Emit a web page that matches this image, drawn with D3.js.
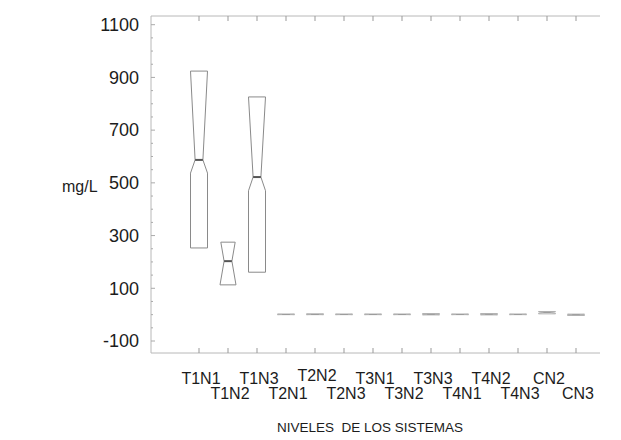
<!DOCTYPE html>
<html><head><meta charset="utf-8">
<script src="https://cdn.jsdelivr.net/npm/d3@7"></script>
<style>
body{margin:0;background:#fff}
text{font-family:"Liberation Sans",Arial,sans-serif;fill:#1c1c1c}
</style></head>
<body><svg id="chart" width="621" height="440"></svg>
<script>
const categories = ["T1N1","T1N2","T1N3","T2N1","T2N2","T2N3","T3N1","T3N2","T3N3","T4N1","T4N2","T4N3","CN2","CN3"];
const q1Values     = [253, 113, 161, 0, 0, 0, 0, 0, -1, 0, -1, 0, 3, -3];
const q3Values     = [924, 275, 826, 2, 3, 2, 2, 2, 4, 2, 4, 2, 12, 2];
const medianValues = [587, 203, 522, 1, 1, 1, 1, 1, 1, 1, 1, 1, 8, 0];
const notchLoValues= [537, 102, 470, 0, 0, 0, 0, 0, 0, 0, 0, 0, 5, -2];
const notchHiValues= [924, 304, 826, 2, 2, 2, 2, 2, 3, 2, 3, 2, 11, 1];
const yTickValues  = [1100, 900, 700, 500, 300, 100, -100];
const yLabel = "mg/L";
const xTitle = "NIVELES  DE LOS SISTEMAS";

(function () {
const svg = d3.select("#chart");
const pLeft = 151, pRight = 600, pTop = 16, pBottom = 353;

const y = d3.scaleLinear().domain([-145.5, 1133]).range([pBottom, pTop]);
const x = d3.scalePoint().domain(categories).range([199, 576]);

const frameColor = "#b8b8b8";
svg.append("line").attr("x1", pLeft).attr("x2", pLeft).attr("y1", pTop).attr("y2", pBottom)
  .attr("stroke", frameColor).attr("stroke-width", 1);
svg.append("line").attr("x1", pLeft).attr("x2", pRight).attr("y1", pTop).attr("y2", pTop)
  .attr("stroke", frameColor).attr("stroke-width", 1);
svg.append("line").attr("x1", pLeft).attr("x2", pRight).attr("y1", pBottom).attr("y2", pBottom)
  .attr("stroke", frameColor).attr("stroke-width", 1);

const minor = d3.range(-100, 1101, 50);
svg.append("g").selectAll("line").data(minor).join("line")
  .attr("x1", pLeft).attr("x2", d => pLeft + (yTickValues.includes(d) ? 4 : 2))
  .attr("y1", d => y(d)).attr("y2", d => y(d))
  .attr("stroke", "#aaa");

svg.append("g").selectAll("text").data(yTickValues).join("text")
  .attr("x", 139).attr("y", d => y(d)).attr("dy", "0.35em")
  .attr("text-anchor", "end").attr("font-size", 18).text(d => d);

svg.append("g").selectAll("line").data(categories).join("line")
  .attr("x1", d => x(d)).attr("x2", d => x(d)).attr("y1", pTop).attr("y2", pTop + 5)
  .attr("stroke", "#999");
svg.append("g").selectAll("line").data(categories).join("line")
  .attr("x1", d => x(d)).attr("x2", d => x(d)).attr("y1", pBottom).attr("y2", pBottom - 5)
  .attr("stroke", "#999");

const halfW = 8.5, indent = 4.6;
const boxes = categories.map((c, i) => ({
  c, q1: q1Values[i], q3: q3Values[i], med: medianValues[i],
  nLo: notchLoValues[i], nHi: notchHiValues[i]
}));
function widthAt(b, v) {
  let frac = 0;
  if (v >= b.med) {
    const span = b.nHi - b.med;
    frac = span > 0 ? Math.max(0, 1 - (v - b.med) / span) : (v === b.med ? 1 : 0);
  } else {
    const span = b.med - b.nLo;
    frac = span > 0 ? Math.max(0, 1 - (b.med - v) / span) : 0;
  }
  return halfW - indent * frac;
}
const g = svg.append("g");
boxes.forEach(b => {
  const cx = x(b.c);
  const vals = [b.q1];
  if (b.nLo > b.q1 && b.nLo < b.med) vals.push(b.nLo);
  vals.push(b.med);
  if (b.nHi < b.q3 && b.nHi > b.med) vals.push(b.nHi);
  vals.push(b.q3);
  const pts = vals.map(v => [cx + widthAt(b, v), y(v)])
    .concat(vals.slice().reverse().map(v => [cx - widthAt(b, v), y(v)]));
  const big = b.q3 - b.q1 > 50;
  g.append("path").attr("d", d3.line()(pts) + "Z")
    .attr("fill", "none").attr("stroke", big ? "#8a8a8a" : "#b0b0b0")
    .attr("stroke-width", 1);
  const w = widthAt(b, b.med);
  g.append("line").attr("x1", cx - w).attr("x2", cx + w)
    .attr("y1", y(b.med)).attr("y2", y(b.med))
    .attr("stroke", big ? "#555" : "#999").attr("stroke-width", big ? 2 : 1);
});

svg.append("g").selectAll("text").data(categories).join("text")
  .attr("x", d => x(d) + 2)
  .attr("y", (d, i) => i % 2 === 0 ? (d === "T2N2" ? 381 : 384) : 399)
  .attr("text-anchor", "middle").attr("font-size", 16).text(d => d);

svg.append("text").attr("x", 62).attr("y", 192).attr("font-size", 16).text(yLabel);
svg.append("text").attr("x", 370).attr("y", 432).attr("text-anchor", "middle")
  .attr("font-size", 13.5).style("white-space", "pre").text(xTitle);
})();
</script>
</body></html>
